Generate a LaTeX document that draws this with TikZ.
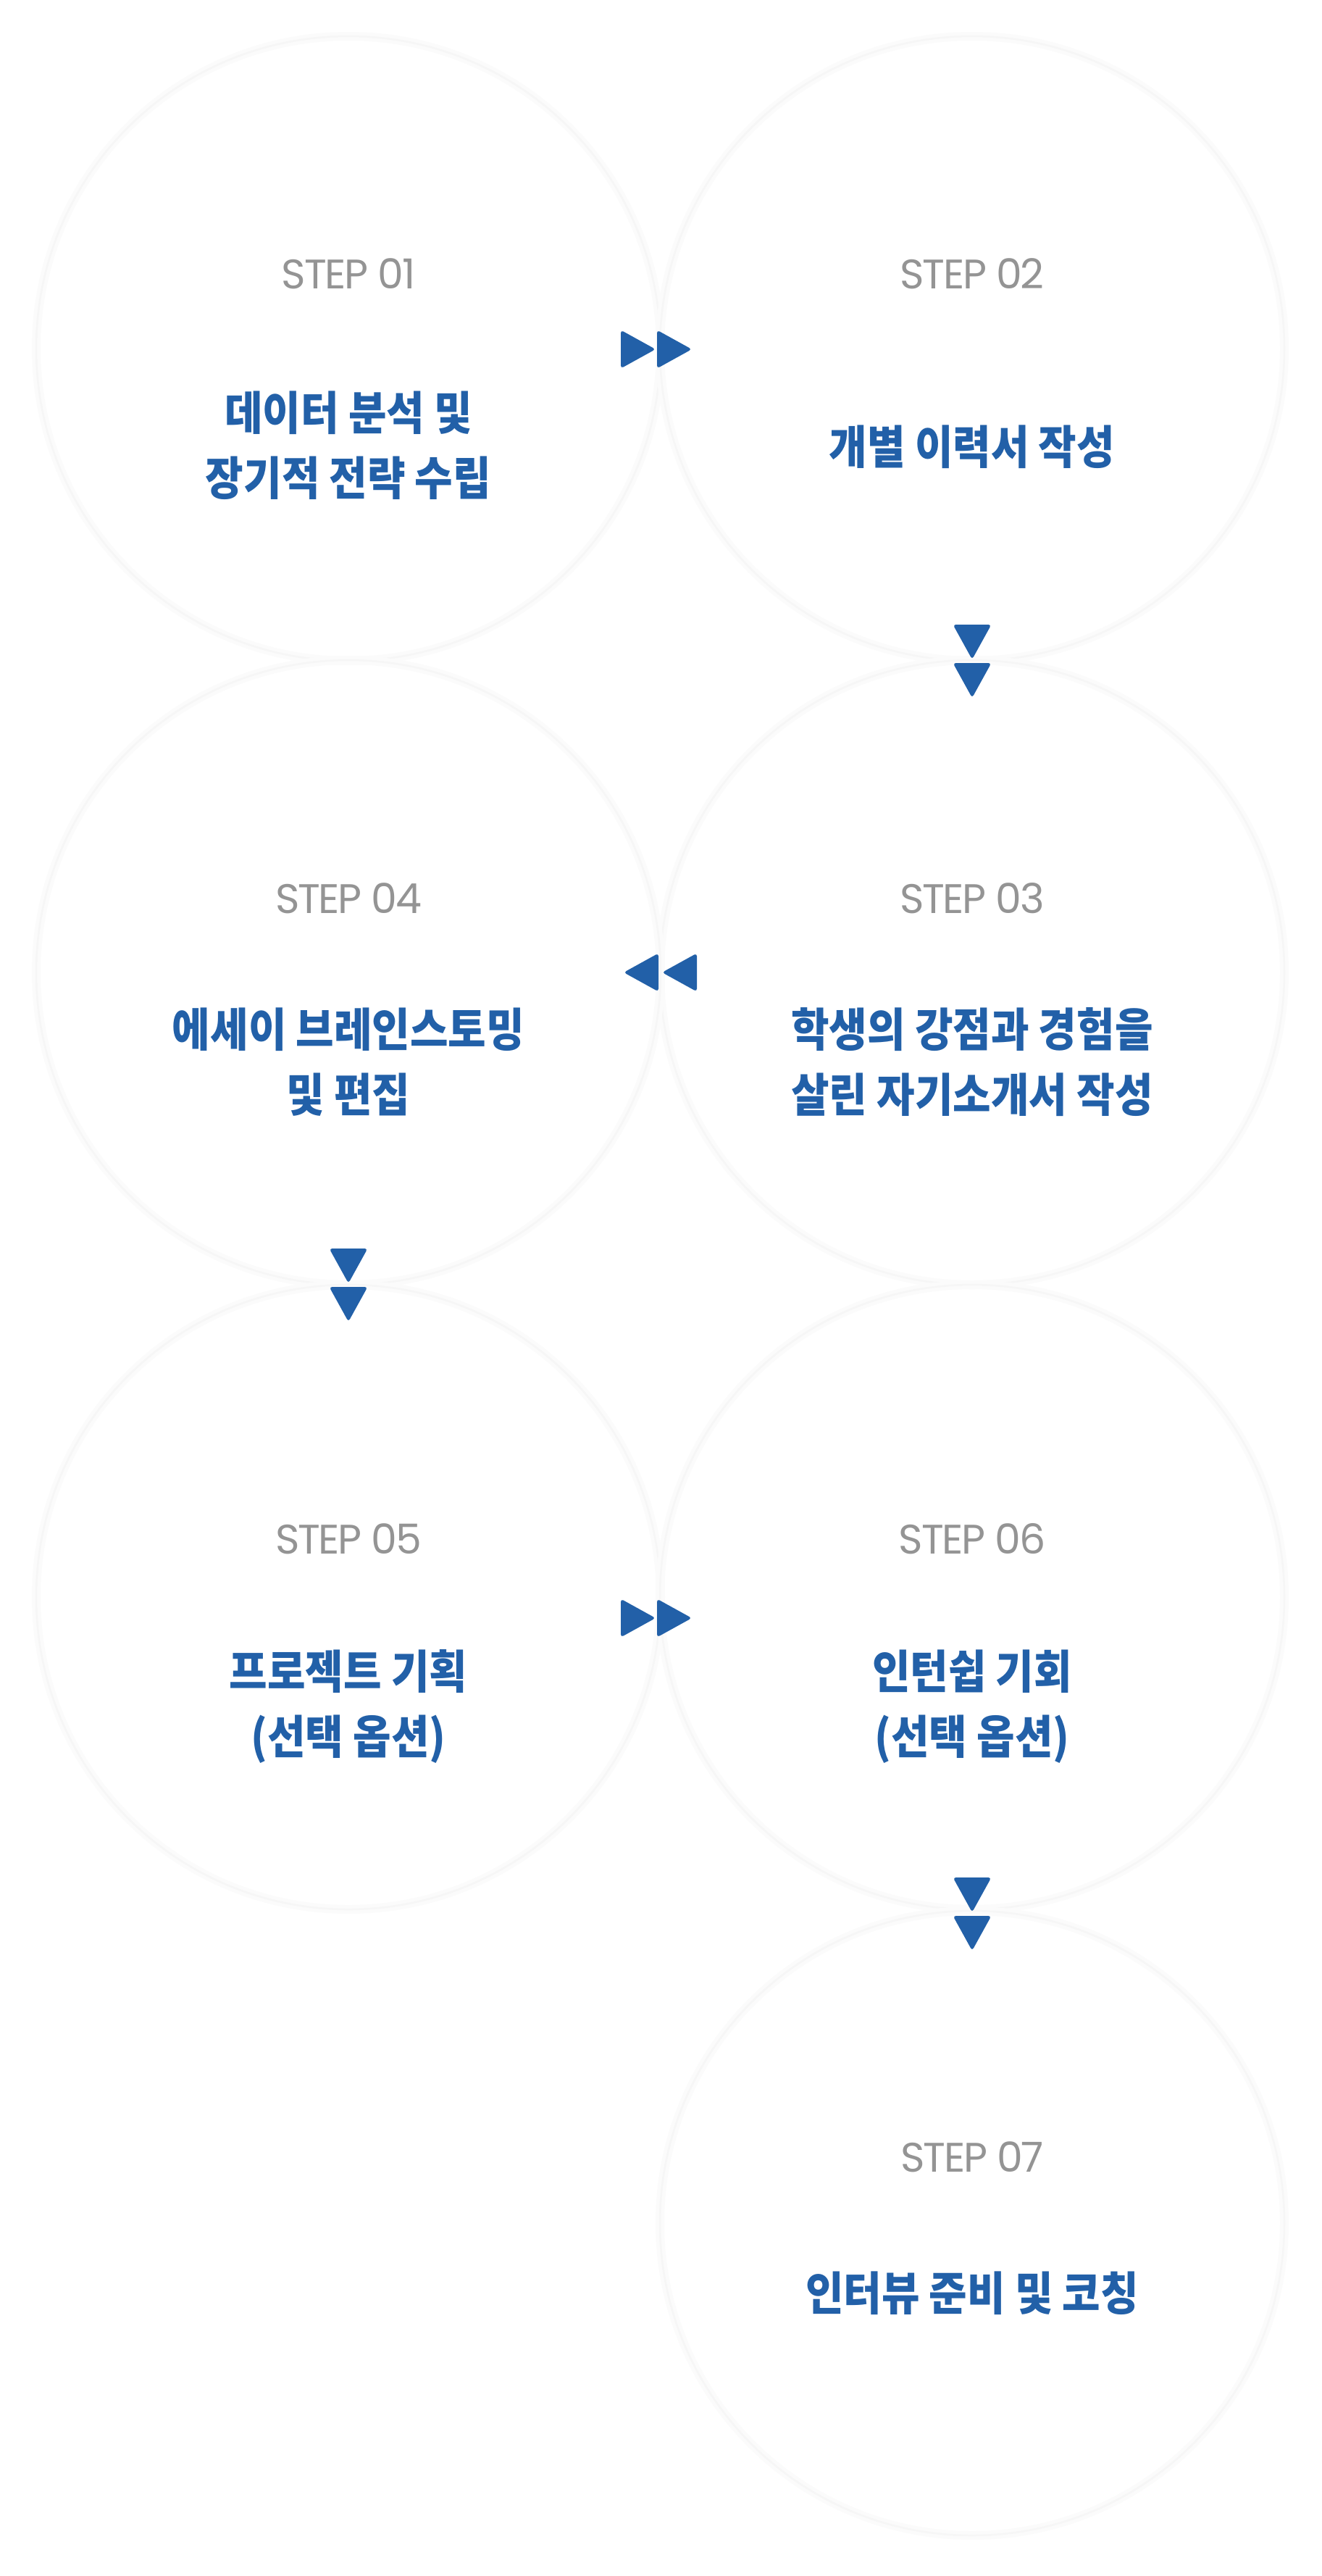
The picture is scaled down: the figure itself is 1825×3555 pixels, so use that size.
\documentclass[tikz,border=0pt]{standalone}
\usepackage{fontspec}
\newfontfamily\kofont[FakeStretch=0.9]{Noto Sans CJK KR}
\newfontfamily\stepfont[LetterSpace=-4]{Poppins}
\definecolor{titleblue}{RGB}{34,96,168}
\definecolor{stepgray}{RGB}{148,148,148}
\definecolor{ringgray}{RGB}{246,246,246}
\definecolor{ringsoft}{RGB}{251,251,251}
\tikzset{
  ring/.style={circle, minimum size=862pt, inner sep=0pt, draw=ringgray, line width=2.5pt,
    preaction={draw=ringsoft, line width=12pt}},
  steplabel/.style={text=stepgray, inner sep=0pt, font=\stepfont\fontsize{57}{60}\selectfont},
  titletext/.style={text=titleblue, inner sep=0pt, align=center, font=\kofont\bfseries\fontsize{63.5}{90}\selectfont},
  tri right/.pic={\fill[titleblue, rounded corners=4pt] (0,-26.5) -- (48,0) -- (0,26.5) -- cycle;},
  tri left/.pic={\fill[titleblue, rounded corners=4pt] (0,-26.5) -- (-48,0) -- (0,26.5) -- cycle;},
  tri down/.pic={\fill[titleblue, rounded corners=4pt] (-26.5,0) -- (26.5,0) -- (0,48) -- cycle;}
}
\begin{document}
\begin{tikzpicture}[x=1pt,y=-1pt]
\useasboundingbox[fill=white] (0,0) rectangle (1825,3555);
% circles
\node[ring] (c1) at (481,481) {};
\node[ring] (c2) at (1342,481) {};
\node[ring] (c3) at (1342,1342) {};
\node[ring] (c4) at (481,1342) {};
\node[ring] (c5) at (481,2204) {};
\node[ring] (c6) at (1342,2204) {};
\node[ring] (c7) at (1342,3068) {};
% step labels
\node[steplabel] (s1) at (481,378) {STEP 01};
\node[steplabel] (s2) at (1342,378) {STEP 02};
\node[steplabel] (s3) at (1342,1240) {STEP 03};
\node[steplabel] (s4) at (481,1240) {STEP 04};
\node[steplabel] (s5) at (481,2124) {STEP 05};
\node[steplabel] (s6) at (1342,2124) {STEP 06};
\node[steplabel] (s7) at (1342,2977) {STEP 07};
% titles
\node[titletext] (t1) at (481,615) {데이터 분석 및\\장기적 전략 수립};
\node[titletext] (t2) at (1342,617) {개별 이력서 작성};
\node[titletext] (t3) at (1342,1466) {학생의 강점과 경험을\\살린 자기소개서 작성};
\node[titletext] (t4) at (481,1466) {에세이 브레인스토밍\\및 편집};
\node[titletext] (t5) at (481,2355) {프로젝트 기획\\(선택 옵션)};
\node[titletext] (t6) at (1342,2355) {인턴쉽 기회\\(선택 옵션)};
\node[titletext] (t7) at (1342,3165) {인터뷰 준비 및 코칭};
% arrows
\pic at (857,482) {tri right};
\pic at (907,482) {tri right};
\pic at (1342,862) {tri down};
\pic at (1342,915) {tri down};
\pic at (909,1342) {tri left};
\pic at (962,1342) {tri left};
\pic at (481,1723) {tri down};
\pic at (481,1776) {tri down};
\pic at (857,2233) {tri right};
\pic at (907,2233) {tri right};
\pic at (1342,2591) {tri down};
\pic at (1342,2644) {tri down};
\end{tikzpicture}
\end{document}
